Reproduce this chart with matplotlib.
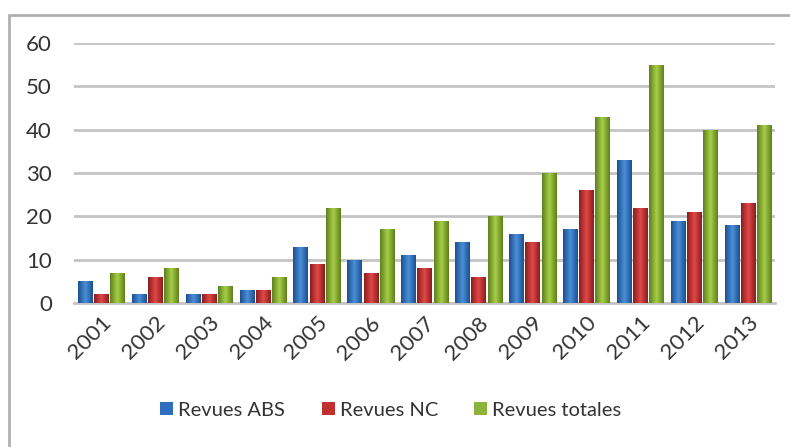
import numpy as np
import matplotlib
matplotlib.use("Agg")
import matplotlib.pyplot as plt
from matplotlib.patches import Rectangle
from matplotlib.colors import LinearSegmentedColormap

# Données
annees = ["2001", "2002", "2003", "2004", "2005", "2006", "2007",
          "2008", "2009", "2010", "2011", "2012", "2013"]
revues_abs = [5, 2, 2, 3, 13, 10, 11, 14, 16, 17, 33, 19, 18]
revues_nc = [2, 6, 2, 3, 9, 7, 8, 6, 14, 26, 22, 21, 23]
revues_totales = [7, 8, 4, 6, 22, 17, 19, 20, 30, 43, 55, 40, 41]

series = [
    ("Revues ABS", revues_abs, ("#1d4f91", "#4a8fd8", "#1d4f91"), "#2f6fbf"),
    ("Revues NC", revues_nc, ("#8c1c1c", "#e04848", "#8c1c1c"), "#c0302f"),
    ("Revues totales", revues_totales, ("#5e7f1c", "#a8cf48", "#5e7f1c"), "#8db33a"),
]

plt.rcParams['font.family'] = ['Lato', 'DejaVu Sans']

fig = plt.figure(figsize=(7.9, 4.47), dpi=100)
ax = fig.add_axes([74 / 790, 1 - 303 / 447, (775 - 74) / 790, (303 - 43) / 447])

x = np.arange(len(annees))
largeur = 0.26
pas = 0.30

for i, (nom, valeurs, couleurs, unie) in enumerate(series):
    barres = ax.bar(x + (i - 1) * pas, valeurs, largeur, color=unie,
                    label=nom, zorder=3)
    cmap = LinearSegmentedColormap.from_list(nom, couleurs)
    grad = np.linspace(0, 1, 64).reshape(1, -1)
    for b in barres:
        x0, y0 = b.get_x(), b.get_y()
        w, h = b.get_width(), b.get_height()
        im = ax.imshow(grad, cmap=cmap, aspect="auto", zorder=4,
                       extent=[x0, x0 + w, y0, y0 + h])
        im.set_clip_path(b)

ax.set_xlim(-0.5, len(annees) - 0.5)
ax.set_ylim(0, 60)
ax.set_yticks(range(0, 61, 10))
ax.set_xticks(x)
ax.set_xticklabels(annees, rotation=45, ha="right", rotation_mode="anchor")
ax.tick_params(axis="both", length=0, labelsize=16, colors="#333333")
ax.tick_params(axis="y", pad=16)
ax.tick_params(axis="x", pad=7)
ax.yaxis.grid(True, color="#c4c4c4", linewidth=2, zorder=0)
ax.set_axisbelow(True)
for s in ["top", "right", "left"]:
    ax.spines[s].set_visible(False)
ax.spines["bottom"].set_color("#c4c4c4")
ax.spines["bottom"].set_linewidth(2)

handles, labels = ax.get_legend_handles_labels()
fig.legend(handles, labels, loc="center", bbox_to_anchor=(391 / 790, 1 - 410 / 447),
           ncol=3, frameon=False, fontsize=14.5, handlelength=0.65, handleheight=0.65,
           handletextpad=0.25, columnspacing=1.8, labelcolor="#333333")

fig.patches.append(Rectangle((9 / 790, -0.05), 1.1, 1 - 15 / 447 + 0.05,
                             transform=fig.transFigure, fill=False,
                             edgecolor="#b0b0b0", linewidth=2))

fig.savefig("out.png", dpi=100)
